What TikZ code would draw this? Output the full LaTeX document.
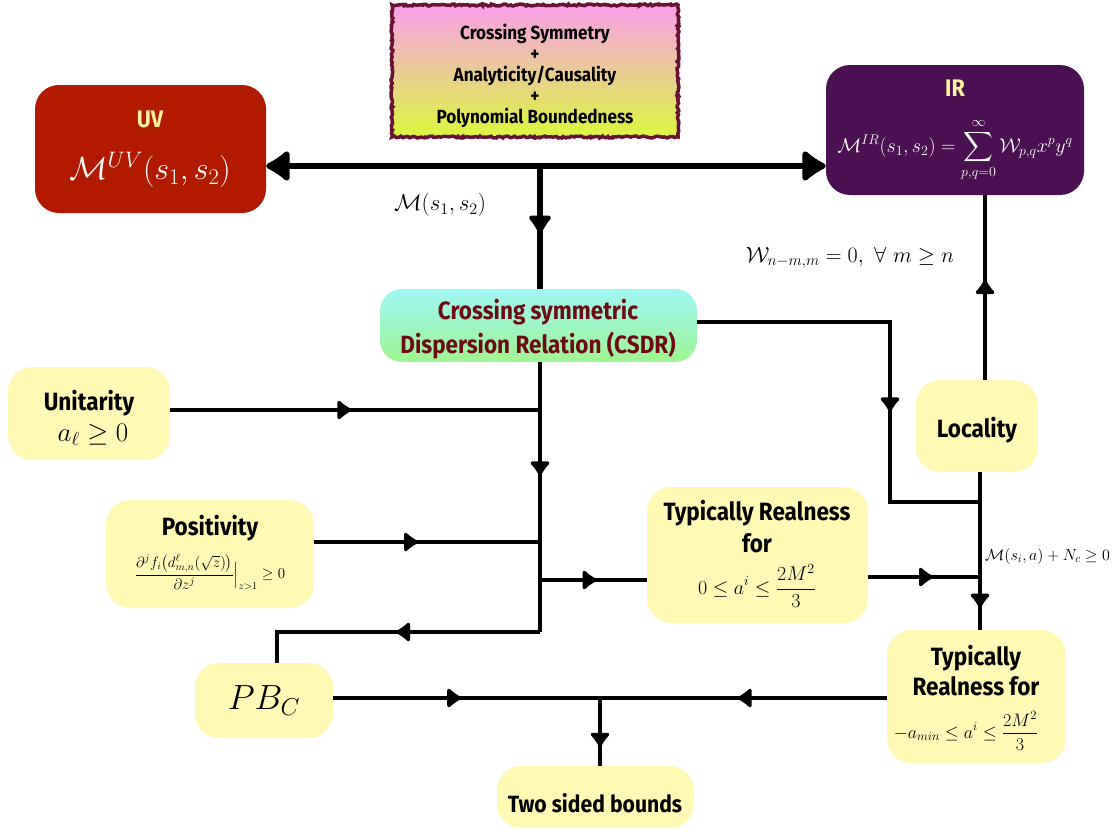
\RequirePackage{fix-cm}
\documentclass[tikz,border=0pt]{standalone}
\usepackage{amsmath}
\usepackage{fontspec}
\newfontfamily\chalk[FakeStretch=0.9]{Fira Sans}
\usetikzlibrary{arrows.meta,decorations.markings,decorations.pathmorphing,calc}
\definecolor{uvRed}{HTML}{B21A00}
\definecolor{irPurple}{HTML}{4A1052}
\definecolor{noteYellow}{HTML}{FFF9B6}
\definecolor{titleYellow}{HTML}{FFF09A}
\definecolor{csdrText}{HTML}{6E0A14}
\definecolor{csdrTop}{HTML}{A0F6F4}
\definecolor{csdrBottom}{HTML}{9EF590}
\definecolor{condTop}{HTML}{F99FEC}
\definecolor{condBottom}{HTML}{DCF83C}
\definecolor{condEdge}{HTML}{6A1235}

\begin{document}
\begin{tikzpicture}
[
x=1pt,y=-1pt,
card/.style={rounded corners=24pt,inner sep=0pt},
note/.style={card,fill=noteYellow},
head/.style={font=\chalk\bfseries\fontsize{25}{30}\selectfont,anchor=base,inner sep=0pt},
formula/.style={inner sep=0pt},
wire/.style={line width=3.2pt},
trunk/.style={line width=6.5pt},
midtip/.style={postaction={decorate},decoration={markings,mark=at position #1 with {\arrow{Latex[round,length=16pt,width=24pt]}}}},
fattip/.style={postaction={decorate},decoration={markings,mark=at position #1 with {\arrow{Latex[round,length=21pt,width=28pt]}}}},
bigtip/.style={{Latex[round,length=27pt,width=38pt]}-{Latex[round,length=27pt,width=38pt]}},
]
\useasboundingbox (0,0) rectangle (1117,835);

% Boxes
\node[draw=condEdge,line width=3.5pt,top color=condTop,bottom color=condBottom,minimum width=286pt,minimum height=132pt,decorate,decoration={random steps,segment length=2pt,amplitude=1pt}] (cond) at (535,71) {};
\node[font=\chalk\bfseries\fontsize{19}{20.8}\selectfont,align=center] (condtext) at (535,76) {Crossing Symmetry\\+\\Analyticity/Causality\\+\\Polynomial Boundedness};

\node[card,fill=uvRed,minimum width=231pt,minimum height=128pt] (uv) at (150.5,149) {};
\node[head,font=\chalk\bfseries\fontsize{24}{28}\selectfont,text=titleYellow] (uvtitle) at (150,127) {UV};
\node[formula,text=white,font=\fontsize{32}{38}\selectfont] (uvform) at (150,170) {$\mathcal{M}^{UV}(s_1,s_2)$};

\node[card,fill=irPurple,minimum width=258pt,minimum height=130pt] (ir) at (955,130) {};
\node[head,font=\chalk\bfseries\fontsize{24}{28}\selectfont,text=titleYellow] (irtitle) at (955,96) {IR};
\node[formula,text=white,font=\fontsize{20}{24}\selectfont] (irform) at (955,150) {$\displaystyle\mathcal{M}^{IR}(s_1,s_2)=\sum_{p,q=0}^{\infty}\mathcal{W}_{p,q}x^py^q$};

\node[card,rounded corners=22pt,top color=csdrTop,bottom color=csdrBottom,minimum width=317pt,minimum height=73pt] (csdr) at (538.5,325.5) {};
\node[font=\chalk\bfseries\fontsize{25}{34}\selectfont,text=csdrText,align=center] (csdrtext) at (538,329) {Crossing symmetric\\Dispersion Relation (CSDR)};

\node[note,minimum width=162pt,minimum height=93pt] (uni) at (89,413.5) {};
\node[head] (unititle) at (89,410) {Unitarity};
\node[formula,font=\fontsize{27}{32}\selectfont,anchor=base] (uniform) at (93,441) {$a_\ell\geq 0$};

\node[note,minimum width=208pt,minimum height=108pt] (pos) at (210,554) {};
\node[head] (postitle) at (210,535) {Positivity};
\node[formula,font=\fontsize{15}{18}\selectfont] (posform) at (210,572) {$\displaystyle\frac{\partial^j f_i\big(d^{\ell}_{m,n}(\sqrt{z})\big)}{\partial z^j}\Big|_{z>1}\geq 0$};

\node[note,minimum width=221pt,minimum height=136pt] (tr1) at (757.5,555) {};
\node[head] (tr1a) at (757,520) {Typically Realness};
\node[head] (tr1b) at (757,552) {for};
\node[formula,font=\fontsize{20}{24}\selectfont] (tr1form) at (757,586) {$\displaystyle 0\leq a^i\leq\frac{2M^2}{3}$};

\node[note,minimum width=122pt,minimum height=92pt] (loc) at (977,426) {};
\node[head] (loctext) at (977,437) {Locality};

\node[note,minimum width=179pt,minimum height=133pt] (tr2) at (976.5,696.5) {};
\node[head] (tr2a) at (976,665) {Typically};
\node[head] (tr2b) at (976,695) {Realness for};
\node[formula,font=\fontsize{18}{22}\selectfont] (tr2form) at (966,731) {$\displaystyle -a_{min}\leq a^i\leq\frac{2M^2}{3}$};

\node[note,minimum width=138pt,minimum height=75pt,font=\fontsize{35}{40}\selectfont] (pbc) at (264,700.5) {$PB_C$};

\node[note,minimum width=197pt,minimum height=62pt] (two) at (595.5,797) {};
\node[head,font=\chalk\bfseries\fontsize{23.5}{28}\selectfont] (twotext) at (595,812) {Two sided bounds};

% Labels
\node[formula,font=\fontsize{23}{28}\selectfont] (mlabel) at (440,205) {$\mathcal{M}(s_1,s_2)$};
\node[formula,font=\fontsize{22}{26}\selectfont] (wlabel) at (850,258) {$\mathcal{W}_{n-m,m}=0,\ \forall\ m\geq n$};
\node[formula,font=\fontsize{16}{19}\selectfont,anchor=west] (nlabel) at (985,556) {$\mathcal{M}(s_i,a)+N_c\geq 0$};

% Junctions
\coordinate (jTop) at (540,166);
\coordinate (jUni) at (540,410);
\coordinate (jPos) at (540,542);
\coordinate (jTr) at (540,580);
\coordinate (jPb) at (540,632);
\coordinate (kPb) at (277,632);
\coordinate (jTwo) at (600,698);
\coordinate (jRight) at (980,577);
\coordinate (kCsdr) at (890,322);
\coordinate (jLoc) at (980,502);
\coordinate (kIr) at (985,195);

% Edges
\draw[trunk,bigtip] (uv.east |- jTop) -- (ir.west |- jTop);
\draw[trunk,fattip=0.55] (jTop) -- (csdr.north -| jTop);
\draw[wire,midtip=0.42] (csdr.south -| jUni) -- (jPb);
\draw[wire,midtip=0.49] (uni.east |- jUni) -- (jUni);
\draw[wire,midtip=0.46] (pos.east |- jPos) -- (jPos);
\draw[wire,midtip=0.53] (jTr) -- (tr1.west |- jTr);
\draw[wire,midtip=0.49] (jPb) -- (kPb) -- (pbc.north -| kPb);
\draw[wire,midtip=0.48] (pbc.east |- jTwo) -- (jTwo);
\draw[wire,midtip=0.52] (tr2.west |- jTwo) -- (jTwo);
\draw[wire,midtip=0.72] (jTwo) -- (two.north -| jTwo);
\draw[wire,midtip=0.58] (tr1.east |- jRight) -- (jRight);
\draw[wire,midtip=0.86] (loc.south -| jRight) -- (tr2.north -| jRight);
\draw[wire,midtip=0.61] (csdr.east |- kCsdr) -- (kCsdr) -- (kCsdr |- jLoc) -- (jLoc);
\draw[wire,midtip=0.54] (loc.north -| kIr) -- (kIr);

\end{tikzpicture}
\end{document}
